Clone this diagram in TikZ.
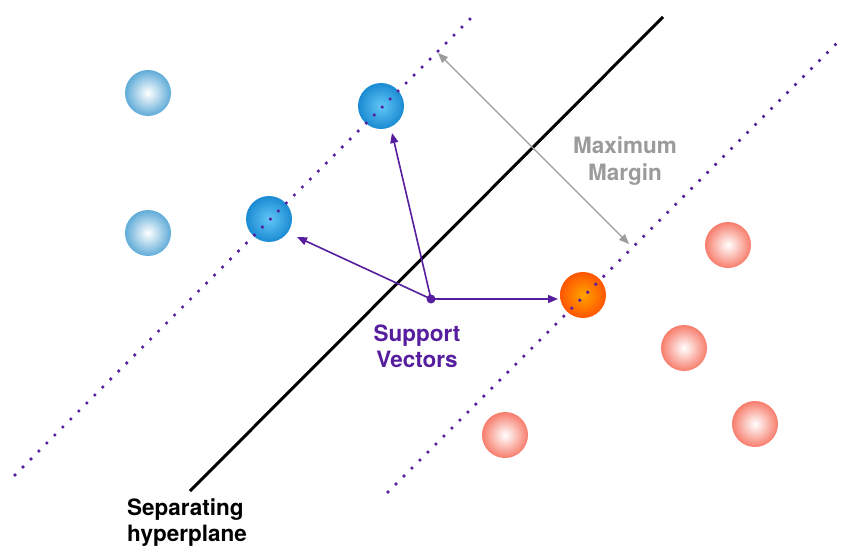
\documentclass[tikz,border=0pt]{standalone}
\usepackage{fontspec}
\setmainfont{TeX Gyre Heros}
\usetikzlibrary{arrows.meta}
\definecolor{svpurple}{HTML}{561E9E}
\definecolor{mgrey}{HTML}{9B9B9B}
\definecolor{lblueedge}{HTML}{5FABD8}
\definecolor{bluein}{HTML}{62C6F7}
\definecolor{blueedge}{HTML}{1A8BD2}
\definecolor{orangein}{HTML}{FFA400}
\definecolor{orangeedge}{HTML}{FF5500}
\definecolor{redegde}{HTML}{F77D6C}
\tikzset{
  ballnode/.style={circle, minimum size=46pt, inner sep=0pt, shade, shading=radial},
  lightblue/.style={ballnode, inner color=white, outer color=lblueedge},
  svblue/.style={ballnode, inner color=bluein, outer color=blueedge},
  svorange/.style={ballnode, inner color=orangein, outer color=orangeedge},
  lightred/.style={ballnode, inner color=white, outer color=redegde},
  dotline/.style={svpurple, line width=3.6pt, line cap=round, dash pattern=on 0pt off 11.3pt},
  svarrow/.style={svpurple, line width=1.6pt, -{Triangle[length=10pt,width=8pt]}},
  marginarrow/.style={mgrey, line width=1.4pt, {Triangle[length=10pt,width=8pt]}-{Triangle[length=10pt,width=8pt]}},
  lbl/.style={font=\bfseries\fontsize{22.5}{26}\selectfont, inner sep=0pt},
}
\begin{document}
\begin{tikzpicture}[x=1pt,y=-1pt]
\useasboundingbox (0,0) rectangle (845,548);

% balls
\node[lightblue] (lb1) at (148,93) {};
\node[lightblue] (lb2) at (148,233) {};
\node[svblue] (sb1) at (381,106) {};
\node[svblue] (sb2) at (269,219) {};
\node[svorange] (so) at (583,295) {};
\node[lightred] (lr1) at (728,245) {};
\node[lightred] (lr2) at (684,348) {};
\node[lightred] (lr3) at (755,424) {};
\node[lightred] (lr4) at (505,435) {};

% hyperplane
\coordinate (hpA) at (190,491);
\coordinate (hpB) at (663,17);
\draw[line width=3pt, black] (hpA) -- (hpB);

% support vectors arrows
\node[circle, fill=svpurple, minimum size=9pt, inner sep=0pt] (o) at (431,299) {};
\coordinate (t1) at (392,133);
\coordinate (t2) at (297,237);
\coordinate (t3) at (558,299);
\draw[svarrow] (o.center) -- (t1);
\draw[svarrow] (o.center) -- (t2);
\draw[svarrow] (o.center) -- (t3);

% margin lines
\coordinate (mlA) at (15,475);
\coordinate (mlB) at (477,12);
\coordinate (mrA) at (388,492);
\coordinate (mrB) at (841,39);
\draw[dotline] (mlA) -- (mlB);
\draw[dotline] (mrA) -- (mrB);

% maximum margin arrow
\coordinate (mA) at (438,53);
\coordinate (mB) at (629,244);
\draw[marginarrow] (mA) -- (mB);

% labels (base anchor = baseline of the last line)
\node[lbl, mgrey, align=center, anchor=base] (maxm) at (625,180) {Maximum\\Margin};
\node[lbl, svpurple, align=center, anchor=base] (supv) at (417,367) {Support\\Vectors};
\node[lbl, black, align=left, anchor=base west] (sep) at (127,541) {Separating\\hyperplane};
\end{tikzpicture}
\end{document}
